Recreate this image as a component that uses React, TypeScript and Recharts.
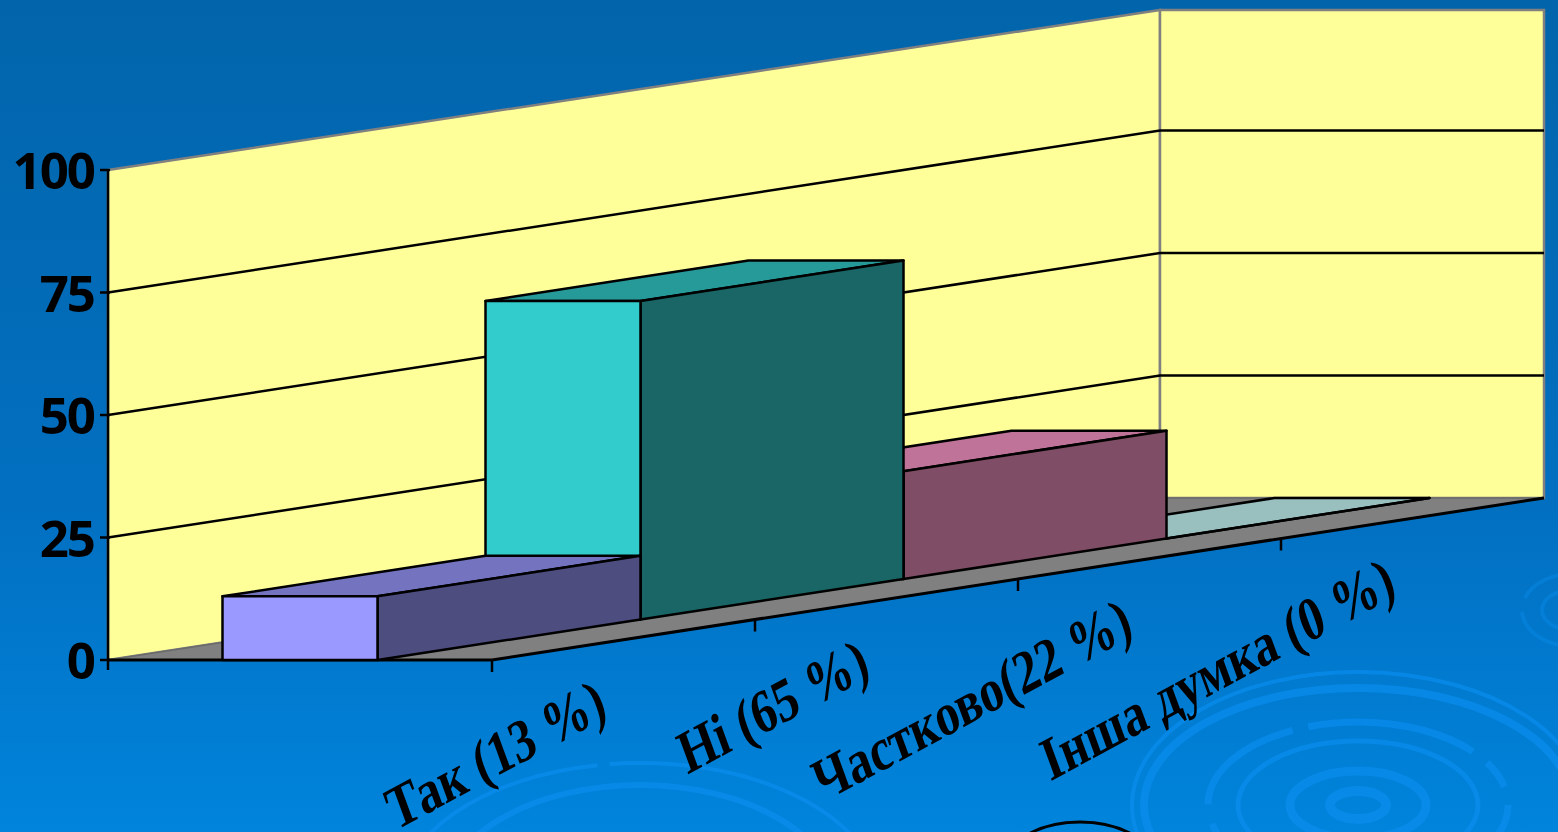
import React from "react";
import { BarChart, Bar, XAxis, YAxis, ReferenceArea, ReferenceLine } from "recharts";

const categories = ["Так (13 %)", "Ні (65 %)", "Частково(22 %)", "Інша думка (0 %)"];
const values = [13, 65, 22, 0];
const frontColors = ["#9999FF", "#33CCCC", "#FF99CC", "#CCFFFF"];
const topColors = ["#7373BF", "#269999", "#BF7399", "#99BFBF"];
const sideColors = ["#4D4D80", "#1A6666", "#804D66", "#668080"];
const yTicks = [0, 25, 50, 75, 100];
const gridValues = [25, 50, 75];

// painted back to front: the last category comes first, the axis is reversed
const table = categories
  .map((name, i) => ({ name, value: values[i], front: frontColors[i], top: topColors[i], side: sideColors[i] }))
  .reverse();

const WIDTH = 1558;
const HEIGHT = 832;
const LEFT = 108;
const BAND = 263;
const DROP = 40.5;
const RIGHT_WALL = 384;
const BAR_W = 155;
const SHEAR = DROP / BAND;
const BAR_SHIFT = (RIGHT_WALL - BAND) / 2;
const DEPTH_X = BAND * 4;
const DEPTH_Y = DROP * 4;

const rings = [
  { cx: 1358, cy: 805, rx: 226, ry: 133, w: 4, dash: "330 14 700 0" },
  { cx: 1358, cy: 805, rx: 214, ry: 117, w: 8, dash: "" },
  { cx: 1358, cy: 805, rx: 150, ry: 83, w: 7, dash: "120 16 170 18 30 20" },
  { cx: 1358, cy: 805, rx: 120, ry: 64, w: 5, dash: "" },
  { cx: 1358, cy: 805, rx: 68, ry: 34, w: 9, dash: "" },
  { cx: 1358, cy: 805, rx: 28, ry: 14, w: 10, dash: "" },
  { cx: 640, cy: 900, rx: 240, ry: 137, w: 4, dash: "260 12 300 30" },
  { cx: 640, cy: 905, rx: 200, ry: 120, w: 6, dash: "" },
  { cx: 640, cy: 925, rx: 100, ry: 60, w: 3, dash: "" },
  { cx: 1572, cy: 610, rx: 50, ry: 36, w: 4, dash: "60 14 60 14" },
  { cx: 1572, cy: 610, rx: 30, ry: 20, w: 4, dash: "" },
  { cx: 1070, cy: 905, rx: 130, ry: 60, w: 3, dash: "" },
];

function Backdrop() {
  return (
    <svg width={WIDTH} height={HEIGHT} style={{ position: "absolute", left: 0, top: 0 }}>
      <defs>
        <linearGradient id="bg" x1="0" y1="0" x2="0" y2="1">
          <stop offset="0" stopColor="#0265AB" />
          <stop offset="0.6" stopColor="#026FC0" />
          <stop offset="1" stopColor="#0084DC" />
        </linearGradient>
      </defs>
      <rect width={WIDTH} height={HEIGHT} fill="url(#bg)" />
      {rings.map((r, i) => (
        <ellipse key={i} cx={r.cx} cy={r.cy} rx={r.rx} ry={r.ry} fill="none" stroke="#0A8CEC" strokeOpacity={i > 8 && i < 11 ? 0.4 : 0.75} strokeWidth={r.w} strokeDasharray={r.dash} />
      ))}
      <ellipse cx={1080} cy={862} rx={72} ry={40} fill="none" stroke="#000" strokeWidth={3} />
    </svg>
  );
}

function Walls(p: any) {
  const { x, y, width, height } = p;
  const b = y + height;
  const bx = x + DEPTH_X;
  const by = b - DEPTH_Y;
  const ty = y - 160;
  return (
    <g>
      <polygon points={`${x},${y} ${bx},${ty} ${bx},${by} ${x},${b}`} fill="#FFFF99" stroke="#808080" strokeWidth={2.5} />
      <polygon points={`${bx},${ty} ${bx + RIGHT_WALL},${ty} ${bx + RIGHT_WALL},${by} ${bx},${by}`} fill="#FFFF99" stroke="#808080" strokeWidth={2.5} />
      <polygon points={`${x},${b} ${x + RIGHT_WALL},${b} ${bx + RIGHT_WALL},${by} ${bx},${by}`} fill="#808080" stroke="#6A6A6A" strokeWidth={1.5} />
      <polyline points={`${x},${b} ${x + RIGHT_WALL},${b} ${bx + RIGHT_WALL},${by}`} fill="none" stroke="#000" strokeWidth={3} />
      <line x1={x} y1={y} x2={x} y2={b + 10} stroke="#000" strokeWidth={2.5} />
    </g>
  );
}

function GridLine(p: any) {
  const { x1, y1 } = p;
  const bx = x1 + DEPTH_X;
  const by = y1 - DEPTH_Y;
  return (
    <polyline points={`${x1},${y1} ${bx},${by} ${bx + RIGHT_WALL},${by}`} fill="none" stroke="#000" strokeWidth={2.5} />
  );
}

function Box(p: any) {
  const { x, y, width, height, payload } = p;
  const first = LEFT + (BAND - width) / 2;
  const lift = (x - first) * SHEAR;
  const l = x + BAR_SHIFT;
  const r = l + width;
  const t = y - lift;
  const b = y + height - lift;
  const dx = BAND;
  const dy = DROP;
  const line = { stroke: "#000", strokeWidth: 2.5, strokeLinejoin: "round" as const };
  return (
    <g>
      <polygon points={`${l},${t} ${r},${t} ${r + dx},${t - dy} ${l + dx},${t - dy}`} fill={payload.top} {...line} />
      <polygon points={`${r},${t} ${r + dx},${t - dy} ${r + dx},${b - dy} ${r},${b}`} fill={payload.side} {...line} />
      <rect x={l} y={t} width={width} height={height} fill={payload.front} {...line} />
    </g>
  );
}

function CategoryTick(p: any) {
  const { x, y, payload } = p;
  const first = LEFT + BAND / 2;
  const lift = (x - first) * SHEAR;
  const tx = x - BAND / 2 + RIGHT_WALL;
  const ty = y - 8 - lift;
  const ax = tx + 117;
  const ay = ty + 56;
  return (
    <g>
      <line x1={tx} y1={ty} x2={tx} y2={ty + 12} stroke="#000" strokeWidth={2.5} />
      <text
        transform={`matrix(0.93,-0.5,0.44,1.2,${ax},${ay})`}
        textAnchor="end"
        fontFamily="'Liberation Serif', serif"
        fontWeight={700}
        fontSize={47}
        fill="#000"
      >
        {payload.value}
      </text>
    </g>
  );
}

function ValueTick(p: any) {
  const { x, y, payload } = p;
  return (
    <g>
      <line x1={x} y1={y} x2={x + 10} y2={y} stroke="#000" strokeWidth={2.5} />
      <text x={x - 6} y={y + 19} textAnchor="end" fontFamily="'Open Sans', sans-serif" fontWeight={700} fontSize={51} letterSpacing={-2} fill="#000">
        {payload.value}
      </text>
    </g>
  );
}

export default function App() {
  return (
    <div style={{ position: "absolute", left: 0, top: 0, width: WIDTH, height: HEIGHT, overflow: "hidden" }}>
      <Backdrop />
      <div style={{ position: "absolute", left: 0, top: 0 }}>
        <BarChart width={WIDTH} height={HEIGHT} data={table} margin={{ top: 170, right: 398, bottom: 2, left: 8 }} barSize={BAR_W}>
          <XAxis dataKey="name" reversed height={170} axisLine={false} tickLine={false} tick={<CategoryTick />} interval={0} />
          <YAxis domain={[0, 100]} ticks={yTicks} width={100} axisLine={false} tickLine={false} tick={<ValueTick />} />
          <ReferenceArea y1={0} y2={100} shape={<Walls />} zIndex={-200} />
          {gridValues.map((v) => (
            <ReferenceLine key={v} y={v} shape={<GridLine />} zIndex={-150} />
          ))}
          <Bar dataKey="value" isAnimationActive={false} shape={<Box />} />
        </BarChart>
      </div>
    </div>
  );
}
